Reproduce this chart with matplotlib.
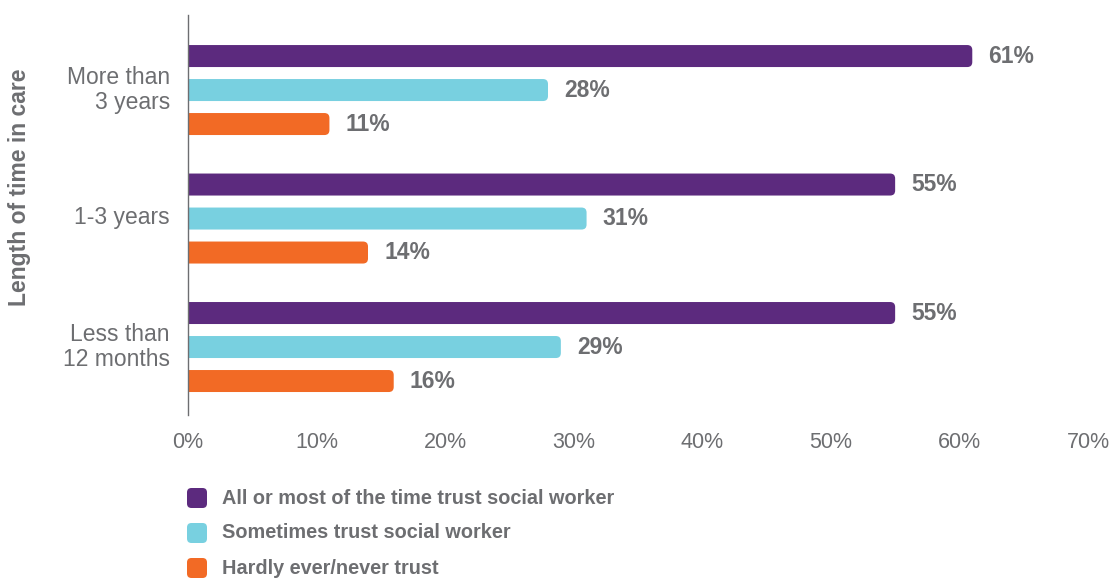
import matplotlib.pyplot as plt
from matplotlib.patches import FancyBboxPatch
import numpy as np

plt.rcParams['font.family'] = ['Liberation Sans', 'DejaVu Sans']

# data
categories = ["More than\n3 years", "1-3 years", "Less than\n12 months"]
series_names = ["All or most of the time trust social worker",
                "Sometimes trust social worker",
                "Hardly ever/never trust"]
all_most = [61, 55, 55]
sometimes = [28, 31, 29]
hardly = [11, 14, 16]
x_ticks = [0, 10, 20, 30, 40, 50, 60, 70]

colors = ["#5c2a7e", "#78d0e0", "#f26a25"]
grey = "#6d6e71"

W, H = 1109, 579
fig = plt.figure(figsize=(W / 100, H / 100), dpi=100)
ax = fig.add_axes([188 / W, 1 - 415 / H, 900 / W, 400 / H])

bar_h = 22 / 128.5
offset = 34 / 128.5
y = np.arange(len(categories))

ax.set_xlim(0, 70)
ax.set_ylim(2.529, -0.584)

# px per data unit, used to keep corners round
px_x = 900 / 70
px_y = 128.5
r = 5 / px_x

for i, vals in enumerate([all_most, sometimes, hardly]):
    ypos = y + (i - 1) * offset
    bars = ax.barh(ypos, vals, height=bar_h, color=colors[i])
    for b, v in zip(bars, vals):
        b.set_visible(False)
        x0, y0 = b.get_x(), b.get_y()
        w, h = b.get_width(), b.get_height()
        # start left of the axis so only the right end shows rounded
        ax.add_patch(FancyBboxPatch((x0 - 2 * r, y0), w + 2 * r, h,
                                    boxstyle=f"round,pad=0,rounding_size={r}",
                                    mutation_aspect=px_x / px_y,
                                    color=colors[i], lw=0, zorder=2))
        ax.text(v + 1.25, b.get_y() + h / 2, f"{v}%", va='center', ha='left',
                fontsize=16.5, fontweight='bold', color=grey)

ax.set_xticks(x_ticks)
ax.set_xticklabels([f"{t}%" for t in x_ticks], fontsize=15.5, color=grey)
ax.set_yticks(y - 0.03)
ax.set_yticklabels(categories, fontsize=16.5, color=grey, linespacing=1.15)
ax.tick_params(axis='both', length=0)
ax.tick_params(axis='x', pad=12)
ax.tick_params(axis='y', pad=13)

for s in ['top', 'right', 'bottom']:
    ax.spines[s].set_visible(False)
ax.spines['left'].set_color(grey)
ax.spines['left'].set_linewidth(1)
ax.spines['left'].set_zorder(3)

fig.text(20 / W, 1 - 187 / H, "Length of time in care", rotation=90,
         ha='center', va='center', fontsize=16.5, fontweight='bold', color=grey)

# legend
leg_y = [498, 533, 568]
for name, c, ly in zip(series_names, colors, leg_y):
    fig.patches.append(FancyBboxPatch((187 / W, 1 - (ly + 10) / H), 20 / W, 20 / H,
                                      boxstyle="round,pad=0,rounding_size=0.004",
                                      mutation_aspect=W / H,
                                      transform=fig.transFigure, color=c, lw=0))
    fig.text(222 / W, 1 - ly / H, name, ha='left', va='center',
             fontsize=14.3, fontweight='bold', color=grey)

fig.savefig("out.png", dpi=100)
